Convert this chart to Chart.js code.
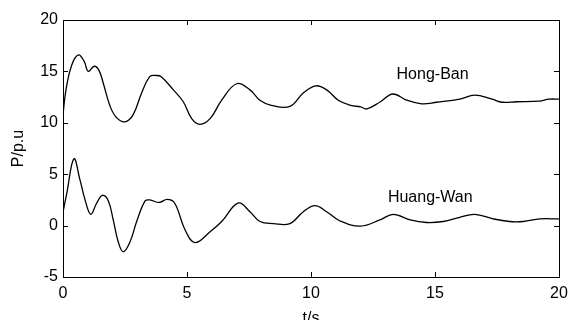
<!DOCTYPE html>
<html>
<head>
<meta charset="utf-8">
<script src="https://cdn.jsdelivr.net/npm/chart.js@4"></script>
<style>
  body { margin: 0; background: #fff; }
  #wrap { width: 570px; height: 320px; }
</style>
</head>
<body>
<div id="wrap"><canvas id="chart" width="570" height="320"></canvas></div>
<script>
// Hong-Ban line power (time in s, P in p.u.)
const hongBanT = [0, 0.12, 0.35, 0.62, 0.85, 1.02, 1.26, 1.45, 1.63, 1.9, 2.16, 2.5, 2.83, 3.17, 3.5, 3.75, 3.95, 4.45, 4.85, 5.19, 5.52, 5.93, 6.4, 7.0, 7.54, 7.94, 8.4, 9.15, 9.69, 10.2, 10.63, 11.1, 11.6, 12.0, 12.25, 12.8, 13.3, 13.86, 14.46, 15.07, 16.0, 16.6, 17.3, 17.7, 18.3, 19.2, 19.6, 20];
const hongBanP = [10.8, 13.2, 15.6, 16.6, 16.0, 15.0, 15.5, 15.1, 13.8, 11.6, 10.5, 10.1, 10.8, 12.9, 14.5, 14.6, 14.5, 13.2, 12.05, 10.4, 9.85, 10.4, 12.2, 13.8, 13.2, 12.2, 11.7, 11.6, 12.9, 13.6, 13.2, 12.2, 11.7, 11.55, 11.35, 12.05, 12.8, 12.2, 11.85, 12.0, 12.3, 12.7, 12.3, 12.0, 12.05, 12.1, 12.3, 12.3];

// Huang-Wan line power
const huangWanT = [0, 0.15, 0.44, 0.69, 0.89, 1.12, 1.36, 1.59, 1.83, 2.03, 2.23, 2.43, 2.7, 2.97, 3.31, 3.5, 3.88, 4.2, 4.5, 4.92, 5.32, 5.93, 6.4, 7.07, 7.54, 7.94, 8.48, 9.15, 9.69, 10.16, 10.63, 11.17, 12.0, 12.78, 13.32, 14.0, 14.66, 15.33, 16.0, 16.6, 17.35, 18.0, 18.56, 19.23, 20];
const huangWanP = [1.3, 3.1, 6.5, 4.4, 2.5, 1.1, 2.2, 2.95, 2.4, 0.5, -1.6, -2.55, -1.6, 0.4, 2.4, 2.5, 2.25, 2.55, 2.2, -0.4, -1.65, -0.6, 0.4, 2.2, 1.35, 0.4, 0.2, 0.2, 1.35, 1.95, 1.35, 0.45, -0.05, 0.55, 1.1, 0.55, 0.3, 0.4, 0.8, 1.1, 0.65, 0.4, 0.4, 0.65, 0.65];

const xTicks = [0, 5, 10, 15, 20];
const yTicks = [-5, 0, 5, 10, 15, 20];

// curve labels placed in data coordinates
const curveLabels = [
  { text: 'Hong-Ban', t: 13.45, p: 14.65 },
  { text: 'Huang-Wan', t: 13.1, p: 2.7 }
];

function toPoints(ts, ps) {
  return ts.map((t, i) => ({ x: t, y: ps[i] }));
}

const FONT = '"Liberation Sans", Arial, sans-serif';

// box around the plot plus inward ticks on every side, like MATLAB
const boxPlugin = {
  id: 'box',
  afterDraw(chart) {
    const ctx = chart.ctx;
    const a = chart.chartArea;
    const sx = chart.scales.x, sy = chart.scales.y;
    ctx.save();
    ctx.strokeStyle = '#000';
    ctx.lineWidth = 1;
    ctx.strokeRect(a.left + 0.5, a.top + 0.5, a.right - a.left, a.bottom - a.top);
    const len = 5;
    ctx.beginPath();
    xTicks.forEach(v => {
      const px = Math.round(sx.getPixelForValue(v)) + 0.5;
      ctx.moveTo(px, a.bottom); ctx.lineTo(px, a.bottom - len);
      ctx.moveTo(px, a.top); ctx.lineTo(px, a.top + len);
    });
    yTicks.forEach(v => {
      const py = Math.round(sy.getPixelForValue(v)) + 0.5;
      ctx.moveTo(a.left, py); ctx.lineTo(a.left + len, py);
      ctx.moveTo(a.right, py); ctx.lineTo(a.right - len, py);
    });
    ctx.stroke();

    ctx.fillStyle = '#000';
    ctx.font = '16px ' + FONT;
    ctx.textBaseline = 'middle';
    ctx.textAlign = 'left';
    curveLabels.forEach(l => {
      ctx.fillText(l.text, sx.getPixelForValue(l.t), sy.getPixelForValue(l.p));
    });
    ctx.restore();
  }
};

new Chart(document.getElementById('chart'), {
  type: 'line',
  data: {
    datasets: [
      {
        label: 'Hong-Ban',
        data: toPoints(hongBanT, hongBanP),
        borderColor: '#000',
        borderWidth: 1.3,
        pointRadius: 0,
        tension: 0.4,
        fill: false
      },
      {
        label: 'Huang-Wan',
        data: toPoints(huangWanT, huangWanP),
        borderColor: '#000',
        borderWidth: 1.3,
        pointRadius: 0,
        tension: 0.4,
        fill: false
      }
    ]
  },
  options: {
    responsive: false,
    animation: false,
    layout: { padding: { top: 20, right: 11, left: 0, bottom: 0 } },
    plugins: { legend: { display: false }, tooltip: { enabled: false } },
    scales: {
      x: {
        type: 'linear',
        min: 0, max: 20,
        afterBuildTicks: s => { s.ticks = xTicks.map(v => ({ value: v })); },
        afterFit: s => { s.height = 43; s.paddingRight = 0; s.paddingLeft = 0; },
        grid: { display: false, drawTicks: false },
        border: { display: false },
        ticks: { color: '#000', padding: 7, maxRotation: 0, font: { family: FONT, size: 16 } },
        title: { display: true, text: 't/s', color: '#000', padding: { top: 0, bottom: -8 }, font: { family: FONT, size: 16 } }
      },
      y: {
        min: -5, max: 20,
        afterBuildTicks: s => { s.ticks = yTicks.map(v => ({ value: v })); },
        afterFit: s => { s.width = 63; s.paddingTop = 0; s.paddingBottom = 0; },
        grid: { display: false, drawTicks: false },
        border: { display: false },
        ticks: { color: '#000', padding: 5, font: { family: FONT, size: 16 } },
        title: { display: true, text: 'P/p.u', color: '#000', padding: { top: 9, bottom: 0 }, font: { family: FONT, size: 16 } }
      }
    }
  },
  plugins: [boxPlugin]
});
</script>
</body>
</html>
